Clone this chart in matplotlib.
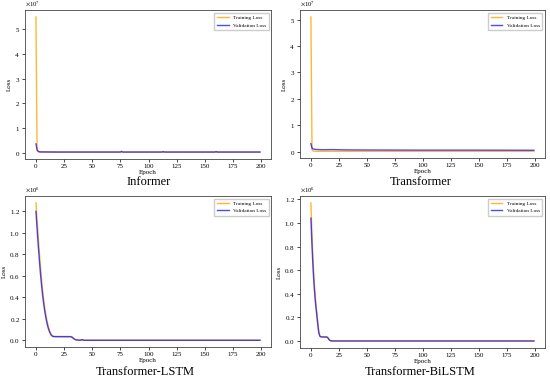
import matplotlib.pyplot as plt

plt.rcParams['font.family'] = ['Liberation Serif', 'DejaVu Serif']
plt.rcParams['mathtext.fontset'] = 'stix'

# Informer (units of 1e7)
inf_train_ep = [0, 1, 2, 3, 5, 10, 50, 100, 150, 199]
inf_train = [5.5, 0.08, 0.03, 0.02, 0.02, 0.02, 0.02, 0.02, 0.02, 0.02]
inf_val_ep = [0, 1, 2, 3, 5, 20, 75, 76, 77, 112, 113, 114, 159, 160, 161, 199]
inf_val = [0.35, 0.12, 0.05, 0.03, 0.025, 0.02, 0.02, 0.05, 0.02, 0.02, 0.04, 0.02,
           0.02, 0.04, 0.02, 0.02]

# Transformer (units of 1e7)
tr_train_ep = [0, 1, 2, 3, 5, 50, 100, 150, 199]
tr_train = [5.1, 0.06, 0.02, 0.015, 0.01, 0.01, 0.01, 0.01, 0.01]
tr_val_ep = [0, 1, 2, 3, 5, 10, 20, 30, 50, 100, 150, 199]
tr_val = [0.3, 0.13, 0.1, 0.09, 0.08, 0.07, 0.075, 0.065, 0.06, 0.055, 0.055, 0.05]

# Transformer-LSTM (units of 1e6)
tl_train_ep = [0, 1, 2, 3, 4, 5, 6, 7, 8, 9, 10, 11, 12, 13, 14, 15, 16, 20, 25, 31,
               32, 33, 34, 35, 36, 38, 40, 41, 42, 45, 100, 199]
tl_train = [1.28, 1.12, 0.97, 0.82, 0.69, 0.57, 0.46, 0.37, 0.29, 0.23, 0.17, 0.13,
            0.095, 0.068, 0.05, 0.04, 0.037, 0.036, 0.036, 0.036, 0.032, 0.022,
            0.014, 0.007, 0.004, 0.002, 0.002, 0.008, 0.002, 0.001, 0.001, 0.001]
tl_val_ep = [0, 1, 2, 3, 4, 5, 6, 7, 8, 9, 10, 11, 12, 13, 14, 15, 16, 20, 25, 31,
             32, 33, 34, 35, 36, 38, 40, 41, 42, 45, 100, 199]
tl_val = [1.2, 1.04, 0.89, 0.75, 0.62, 0.51, 0.41, 0.33, 0.26, 0.2, 0.15, 0.11,
          0.08, 0.058, 0.043, 0.036, 0.034, 0.033, 0.033, 0.033, 0.029, 0.02,
          0.012, 0.006, 0.003, 0.001, 0.001, 0.007, 0.001, 0.0, 0.0, 0.0]

# Transformer-BiLSTM (units of 1e6)
tb_train_ep = [0, 1, 2, 3, 4, 5, 6, 7, 8, 9, 10, 14, 15, 16, 17, 18, 20, 50, 199]
tb_train = [1.17, 0.9, 0.68, 0.5, 0.37, 0.27, 0.18, 0.09, 0.045, 0.036, 0.035,
            0.035, 0.03, 0.015, 0.006, 0.002, 0.001, 0.001, 0.001]
tb_val_ep = [0, 1, 2, 3, 4, 5, 6, 7, 8, 9, 10, 14, 15, 16, 17, 18, 20, 50, 199]
tb_val = [1.04, 0.8, 0.6, 0.45, 0.33, 0.24, 0.15, 0.07, 0.04, 0.035, 0.034,
          0.034, 0.029, 0.014, 0.005, 0.001, 0.0, 0.0, 0.0]

panels = [
    ('Informer', inf_train_ep, inf_train, inf_val_ep, inf_val, 1e7,
     [0.045, 0.581, 0.448, 0.392], (0.27, 0.52)),
    ('Transformer', tr_train_ep, tr_train, tr_val_ep, tr_val, 1e7,
     [0.545, 0.583, 0.446, 0.390], (0.764, 0.52)),
    ('Transformer-LSTM', tl_train_ep, tl_train, tl_val_ep, tl_val, 1e6,
     [0.045, 0.084, 0.448, 0.399], (0.264, 0.018)),
    ('Transformer-BiLSTM', tb_train_ep, tb_train, tb_val_ep, tb_val, 1e6,
     [0.545, 0.082, 0.446, 0.401], (0.764, 0.018)),
]

fig = plt.figure(figsize=(5.5, 3.79), dpi=100)

for name, tx, ty, vx, vy, scale, pos, tpos in panels:
    ax = fig.add_axes(pos)
    ax.plot(tx, [v * scale for v in ty], color='orange', alpha=0.8, lw=1.0,
            label='Training Loss')
    ax.plot(vx, [v * scale for v in vy], color='blue', alpha=0.7, lw=1.0,
            label='Validation Loss')
    ax.set_xticks(range(0, 201, 25))
    ax.ticklabel_format(axis='y', style='sci', scilimits=(0, 0), useMathText=True)
    ax.yaxis.get_offset_text().set_fontsize(4.8)
    ax.tick_params(labelsize=5, width=0.5, length=2, pad=1.5)
    ax.set_xlabel('Epoch', fontsize=5, labelpad=1)
    ax.set_ylabel('Loss', fontsize=5, labelpad=2)
    for s in ax.spines.values():
        s.set_linewidth(0.6)
        s.set_color('#444444')
    ax.legend(loc='upper right', fontsize=3.8, handlelength=2.2, borderpad=0.5,
              frameon=True, fancybox=False, framealpha=1, edgecolor='#cccccc')
    fig.text(tpos[0], tpos[1], name, ha='center', va='center', fontsize=9)

fig.savefig('out.png', dpi=100)
